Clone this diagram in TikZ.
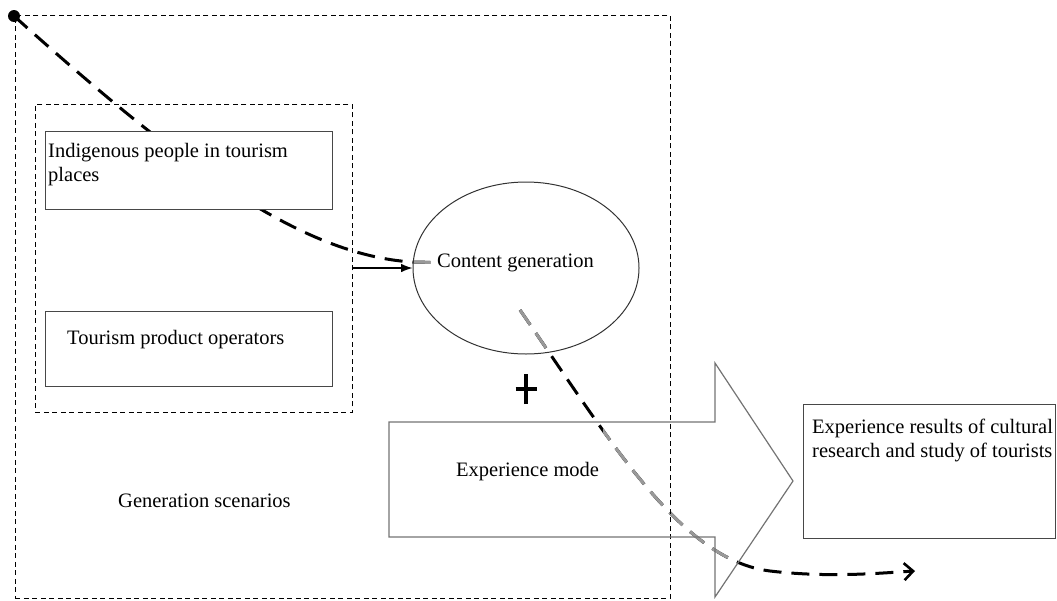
\documentclass[tikz,border=0pt]{standalone}
\usepackage{fontspec}
\setmainfont{Liberation Serif}
\usetikzlibrary{
    arrows.meta,
    positioning,
    shapes.geometric,
    backgrounds
}

\newcommand{\trailfirst}{(dot.center) .. controls (180,165) and (300,255) .. (content.177) -- (contenttxt.west)}
\newcommand{\trailsecond}{(trailin) .. controls (610,440) and (680,560) .. (770,571) .. controls (830,578) and (880,573) .. (trailend)}

\begin{document}
\begin{tikzpicture}[
    x=1pt, y=-1pt,
    txt/.style={
        font=\fontsize{20.5}{24}\selectfont,
        inner sep=0pt,
        align=left
    },
    frame/.style={
        draw,
        dash pattern=on 5pt off 3.5pt,
        line width=0.9pt,
        anchor=north west
    },
    card/.style={
        draw=black!72,
        fill=white,
        line width=1.4pt,
        anchor=north west
    },
    blob/.style={
        ellipse,
        draw=black!80,
        line width=1pt,
        minimum width=226pt,
        minimum height=172pt
    },
    bigarrow/.style={
        draw=black!55,
        line width=1.2pt,
        line join=miter
    },
    feed/.style={
        -{Latex[length=4mm, width=3mm]},
        line width=1.3pt
    },
    trail/.style={
        line width=3pt,
        dash pattern=on 18pt off 10pt
    }
]
\useasboundingbox (0,0) rectangle (1057,600);

% frames
\node[frame, minimum width=655pt, minimum height=583pt] (scen) at (15,15) {};
\node[frame, minimum width=317pt, minimum height=308pt] (grp) at (35,104) {};

% boxes
\node[card, minimum width=287pt, minimum height=78pt] (indig) at (45,131) {};
\node[card, minimum width=287pt, minimum height=75pt] (oper) at (45,311) {};
\node[card, minimum width=252pt, minimum height=134pt] (result) at (803,404) {};
\node[blob] (content) at (526,268) {};

\node[circle, fill, inner sep=0pt, minimum size=12pt] (dot) at (14,16) {};
\coordinate (trailin) at (520,310);
\coordinate (trailend) at (915,571);

% experience mode arrow
\draw[bigarrow] (389,422) -- (715,422) -- (715,363) -- (793,481)
    -- (715,597) -- (715,537) -- (389,537) -- cycle;

% texts (base = last line)
\node[txt, anchor=base west] (indigtxt) at (48,181)
    {Indigenous people in tourism\\places};
\node[txt, anchor=base west] (opertxt) at (67,344)
    {Tourism product operators};
\node[txt, anchor=base west] (contenttxt) at (437,267)
    {Content generation};
\node[txt, anchor=base west] (modetxt) at (456,476)
    {Experience mode};
\node[txt, anchor=base west] (resulttxt) at (812,457)
    {Experience results of cultural\\research and study of tourists};
\node[txt, anchor=base west] (scentxt) at (118,507)
    {Generation scenarios};

% plus sign
\coordinate (plus) at (526,389);
\draw[line width=3.4pt] ([xshift=-10.5pt]plus) -- ([xshift=10.5pt]plus)
    ([yshift=-15pt]plus) -- ([yshift=15pt]plus);

\draw[feed] (grp.east |- content.west) -- (content.west);

\begin{scope}[on background layer]
    \draw[trail] \trailfirst;
    \draw[trail, -{Straight Barb[length=9pt, width=17pt, line width=2.6pt]}] \trailsecond;
    \begin{scope}
        \clip (content.center) ellipse [x radius=113pt, y radius=86pt];
        \draw[trail, black!40] \trailfirst;
        \draw[trail, black!40] \trailsecond;
    \end{scope}
    \begin{scope}
        \clip (603,428) rectangle (730,560);
        \draw[trail, black!40] \trailsecond;
    \end{scope}
\end{scope}

\end{tikzpicture}
\end{document}
